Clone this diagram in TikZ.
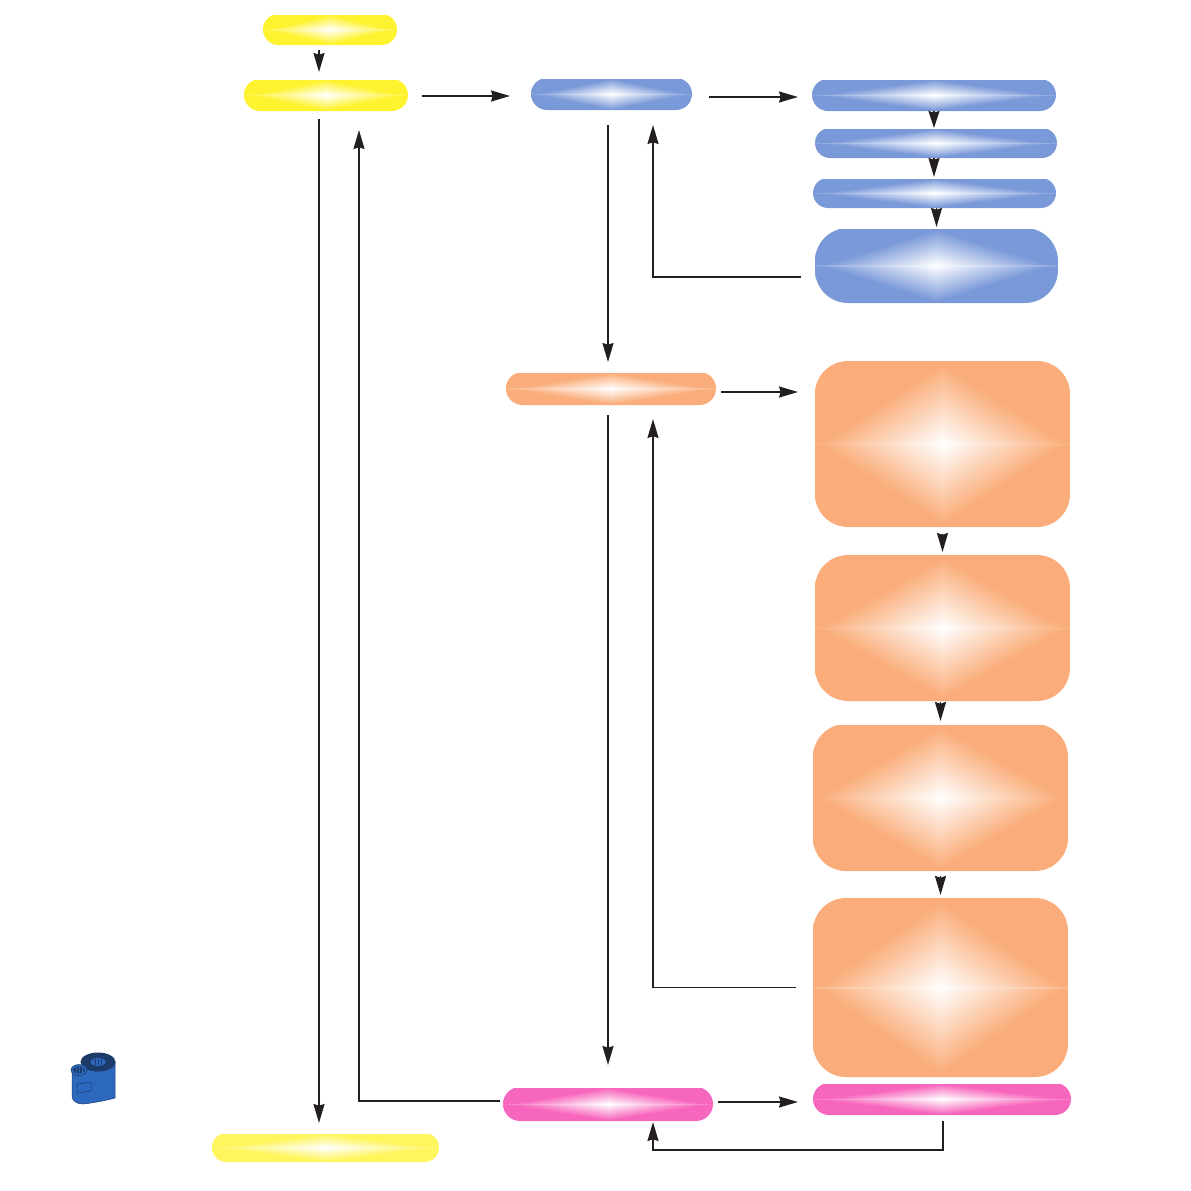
\documentclass[tikz,border=0pt]{standalone}
\usepackage{tikz}
\usetikzlibrary{arrows.meta,positioning,calc}

\def\unitpx{0.02cm}
% r g b are the 1-c values of the fill, w the half thickness of the bright middle line
\newcommand{\declareglow}[5]{%
  \pgfdeclarefunctionalshading{#1}{\pgfpoint{25bp}{25bp}}{\pgfpoint{75bp}{75bp}}{}{%
    50 sub abs exch 50 sub abs 1 index add 24 div
    exch #5 lt {0.86 mul} if
    dup 1 gt {pop 1} if
    dup #2 mul 1 exch sub exch
    dup #3 mul 1 exch sub exch
    #4 mul 1 exch sub
  }%
}
\declareglow{glowyellow}{0.0}{0.05}{0.82}{0.9}
\declareglow{glowpale}{0.0}{0.04}{0.64}{0.9}
\declareglow{glowblue}{0.52}{0.40}{0.15}{0.9}
\declareglow{glowbluebig}{0.52}{0.40}{0.15}{0.35}
\declareglow{gloworange}{0.02}{0.32}{0.52}{0.9}
\declareglow{gloworangebig}{0.02}{0.32}{0.52}{0.16}
\declareglow{glowpink}{0.03}{0.60}{0.26}{0.9}

\definecolor{ink}{HTML}{231F20}
\definecolor{ribbonblue}{HTML}{2B68BE}
\definecolor{ribbondark}{HTML}{1D3B69}

\tikzset{
  box/.style={inner sep=0pt, outer sep=0pt},
  flow/.style={draw=ink, line width=0.036cm, -{Stealth[length=#1, width=0.22cm, inset=0.035cm]}},
  flow/.default=0.38cm,
  gap/.style 2 args={shorten <=#1*\unitpx, shorten >=#2*\unitpx}
}

\begin{document}
\begin{tikzpicture}[x=0.02cm, y=-0.02cm]
\useasboundingbox (0,0) rectangle (1191,1191);
\foreach \n/\g/\c/\xa/\ya/\xb/\yb in {
  start/glowyellow/15.5/263/14/397/45,
  main/glowyellow/16/244/79/408/111,
  lastbox/glowpale/14.5/212/1133/439/1162,
  blueMain/glowblue/16/531/78/692/110,
  blueA/glowblue/16/812/79/1056/111,
  blueB/glowblue/15/815/128/1057/158,
  blueC/glowblue/15/813/178/1056/208,
  blueD/glowbluebig/33/815/228/1058/303,
  orangeMain/gloworange/16.5/506/372/716/405,
  orangeA/gloworangebig/33/815/361/1070/527,
  orangeB/gloworangebig/33/815/555/1070/701,
  orangeC/gloworangebig/33/813/724/1068/871,
  orangeD/gloworangebig/33/813/898/1068/1077,
  pinkMain/glowpink/17/503/1087/713/1121,
  pinkA/glowpink/16/813/1083/1071/1115} {
  \node[box, shading=\g, rounded corners=\c*\unitpx, minimum width={(\xb-\xa)*\unitpx},
    minimum height={(\yb-\ya)*\unitpx}] (\n) at ({(\xa+\xb)/2},{(\ya+\yb)/2}) {};
}
\draw[flow, gap={5}{7}] ([xshift=-11*\unitpx]start.south) -- ([xshift=-7*\unitpx]main.north);
\draw[flow, gap={14}{21}] ([yshift=-1*\unitpx]main.east) -- ([yshift=-1*\unitpx]main.east -| blueMain.west);
\draw[flow, gap={17}{14}] ([yshift=-3*\unitpx]blueMain.east) -- ([yshift=-3*\unitpx]blueMain.east -| blueA.west);
\draw[flow=0.34cm] (blueA.south) -- (blueA.south |- blueB.north);
\draw[flow, gap={0}{1}] ([xshift=-2*\unitpx]blueB.south) -- ([xshift=-2*\unitpx]blueB.south |- blueC.north);
\draw[flow, gap={0}{1}] (blueD.north |- blueC.south) -- (blueD.north);
\foreach \a/\b/\g in {orangeA/orangeB/7,orangeB/orangeC/1,orangeC/orangeD/5} {
  \draw[flow, gap={\g}{3}] (\b.north |- \a.south) -- (\b.north);
}
\draw[flow, gap={15}{10}] ([xshift=-3.5*\unitpx]blueMain.south) -- ([xshift=-3.5*\unitpx]blueMain.south |- orangeMain.north);
\draw[flow, gap={10}{22}] ([xshift=-3*\unitpx]orangeMain.south) -- ([xshift=-3*\unitpx]orangeMain.south |- pinkMain.north);
\draw[flow, gap={5}{17}] ([yshift=-3.5*\unitpx]orangeMain.east) -- ([yshift=-3.5*\unitpx]orangeMain.east -| orangeA.west);
\draw[flow, gap={5}{15}] ([yshift=2*\unitpx]pinkMain.east) -- ([yshift=2*\unitpx]pinkMain.east -| pinkA.west);
\draw[flow, gap={14}{15}] ([yshift=-11.5*\unitpx]blueD.west) -| ([xshift=41.5*\unitpx]blueMain.south);
\draw[flow, gap={17}{14}] (orangeD.west) -| ([xshift=42*\unitpx]orangeMain.south);
\draw[flow, gap={3}{19}] ([yshift=3*\unitpx]pinkMain.west) -| ([xshift=33*\unitpx]main.south);
\draw[flow, gap={8}{10}] ([xshift=-7*\unitpx]main.south) -- ([xshift=-7*\unitpx]main.south |- lastbox.north);
\draw[flow, gap={6}{1}] ([xshift=1*\unitpx]pinkA.south) |- ++(0,35) -| ([xshift=45*\unitpx]pinkMain.south);
\fill[ribbonblue, draw=ribbondark, line width=0.01cm] (72,1069) -- (72,1096) .. controls (72,1101) and (77,1104) .. (83,1104) .. controls (92,1103) and (104,1101) .. (115,1098) -- (115,1062) -- (85,1064) -- cycle;
\fill[ribbondark] (98,1062) circle [x radius=17.5, y radius=9.5];
\fill[ribbonblue] (98,1062) circle [x radius=7.5, y radius=4];
\foreach \x in {95,98,101} {
  \draw[ribbondark, line width=0.015cm] (\x,1059) -- (\x,1065);
}
\fill[ribbonblue, draw=ribbondark, line width=0.01cm] (79,1070) circle [x radius=8, y radius=5.5];
\fill[ribbondark] (79,1070) circle [x radius=6, y radius=3.5];
\foreach \x in {76,79,82} {
  \draw[ribbonblue, line width=0.015cm] (\x,1067) -- (\x,1073);
}
\draw[ribbondark, line width=0.01cm] (77,1084) -- (91,1082) -- (91,1091) -- (77,1093) -- cycle;
\end{tikzpicture}
\end{document}
